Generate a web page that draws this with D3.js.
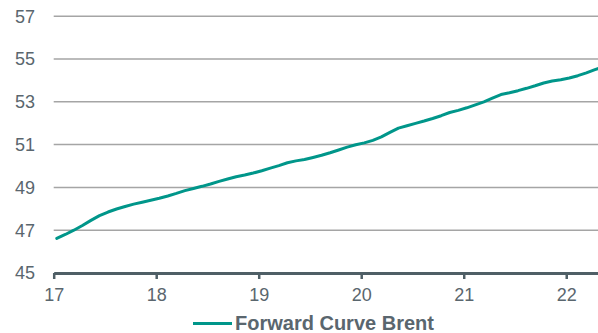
<!DOCTYPE html>
<html>
<head>
<meta charset="utf-8">
<script src="https://cdn.jsdelivr.net/npm/d3@7"></script>
<style>
  html, body { margin: 0; padding: 0; background: #fff; }
  svg { display: block; font-family: Arial, "Liberation Sans", sans-serif; }
</style>
</head>
<body>
<svg id="chart" width="598" height="333"></svg>
<script>
// Brent forward curve, monthly contracts (years shown as two-digit labels)
const seriesName = "Forward Curve Brent";
const startYear = 17.03;
const prices = [
  46.62, 46.80, 47.00, 47.22, 47.46, 47.68, 47.85, 47.99, 48.11, 48.22, 48.31, 48.40,
  48.49, 48.60, 48.72, 48.85, 48.95, 49.05, 49.16, 49.28, 49.39, 49.50, 49.58, 49.67,
  49.78, 49.90, 50.02, 50.15, 50.24, 50.30, 50.40, 50.50, 50.62, 50.75, 50.88, 50.99,
  51.08, 51.20, 51.36, 51.57, 51.77, 51.88, 51.99, 52.10, 52.22, 52.35, 52.50, 52.60,
  52.72, 52.86, 53.00, 53.17, 53.34, 53.42, 53.52, 53.63, 53.75, 53.88, 53.97, 54.03,
  54.11, 54.22, 54.35, 54.50, 54.64
];
const xTicks = [17, 18, 19, 20, 21, 22];
const yTicks = [45, 47, 49, 51, 53, 55, 57];

const data = prices.map((v, i) => ({ t: startYear + i / 12, v }));

const svg = d3.select("#chart");
const plotLeft = 53.7, plotRight = 598, plotTop = 16.2, plotBottom = 273;

const x = d3.scaleLinear().domain([17, 22.31]).range([plotLeft, plotRight]);
const y = d3.scaleLinear().domain([45, 57]).range([plotBottom, plotTop]);

const textColor = "#5a666e";

// horizontal gridlines
svg.append("g")
  .selectAll("line")
  .data(yTicks.filter(d => d !== 45))
  .join("line")
  .attr("x1", plotLeft).attr("x2", plotRight)
  .attr("y1", d => y(d)).attr("y2", d => y(d))
  .attr("stroke", "#a5a5a5")
  .attr("stroke-width", 1.5);

// y labels
svg.append("g")
  .selectAll("text")
  .data(yTicks)
  .join("text")
  .attr("x", 35)
  .attr("y", d => y(d))
  .attr("dy", "0.36em")
  .attr("text-anchor", "end")
  .attr("font-size", 18)
  .attr("fill", textColor)
  .text(d => d);

// x axis
const xAxis = svg.append("g")
  .attr("transform", `translate(0,${plotBottom})`)
  .call(d3.axisBottom(x).tickValues(xTicks).tickFormat(d3.format("d"))
    .tickSize(6).tickPadding(9).tickSizeOuter(0));
xAxis.select(".domain").attr("stroke", "#4f5f66").attr("stroke-width", 3);
xAxis.selectAll(".tick line").attr("stroke", "#4f5f66").attr("stroke-width", 2.5);
xAxis.selectAll(".tick text")
  .attr("font-size", 18)
  .attr("font-family", "Arial, 'Liberation Sans', sans-serif")
  .attr("fill", textColor);

// clip the curve to the plot area
svg.append("clipPath").attr("id", "plot-clip")
  .append("rect").attr("x", plotLeft).attr("y", 0).attr("width", plotRight - plotLeft).attr("height", plotBottom);

const line = d3.line().x(d => x(d.t)).y(d => y(d.v));
svg.append("path")
  .datum(data)
  .attr("clip-path", "url(#plot-clip)")
  .attr("d", line)
  .attr("fill", "none")
  .attr("stroke", "#00968a")
  .attr("stroke-width", 3)
  .attr("stroke-linejoin", "round")
  .attr("stroke-linecap", "round");

// legend
const legend = svg.append("g");
legend.append("line")
  .attr("x1", 193).attr("x2", 232)
  .attr("y1", 323.5).attr("y2", 323.5)
  .attr("stroke", "#00968a").attr("stroke-width", 3);
legend.append("text")
  .attr("x", 235).attr("y", 330)
  .attr("font-size", 20)
  .attr("font-weight", "bold")
  .attr("fill", textColor)
  .text(seriesName);
</script>
</body>
</html>
